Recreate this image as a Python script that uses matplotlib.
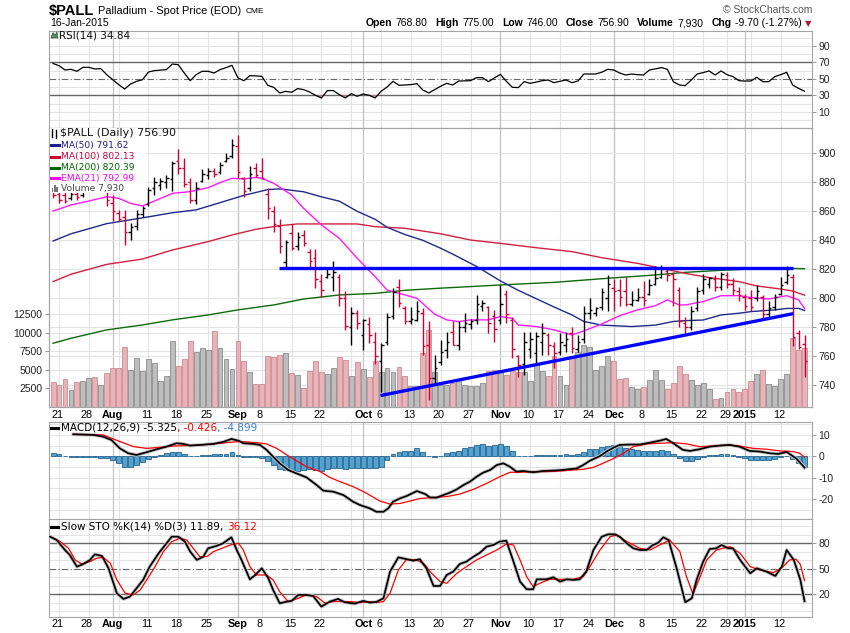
import matplotlib
matplotlib.use("Agg")
import matplotlib.pyplot as plt
import numpy as np
from matplotlib import font_manager
from matplotlib.lines import Line2D
from matplotlib.patches import Rectangle, Polygon
from matplotlib.transforms import blended_transform_factory as blend

plt.rcParams['font.family'] = ['Liberation Sans', 'DejaVu Sans']
plt.rcParams['axes.unicode_minus'] = False

try:
    font_manager.findfont('Liberation Sans Narrow', fallback_to_default=False)
    NARROW = 'Liberation Sans Narrow'
except ValueError:
    NARROW = 'Liberation Sans'

# ---------------- data (trading day 0 = 18-Jul-2014 ... 126 = 16-Jan-2015) ----------------
week_days = [1, 6, 11, 16, 21, 26, 31, 35, 40, 45, 50, 55, 60, 65, 70, 75, 80, 85, 90, 94,
             99, 104, 109, 113, 117, 122]
month_days = [10, 31, 52, 75, 94, 116]
tick_days = [1, 6, 10, 16, 21, 26, 31, 35, 40, 45, 52, 55, 60, 65, 70, 75, 80, 85, 90, 94,
             99, 104, 109, 113, 116, 122]
tick_labels = ['21', '28', 'Aug', '11', '18', '25', 'Sep', '8', '15', '22', 'Oct', '6', '13',
               '20', '27', 'Nov', '10', '17', '24', 'Dec', '8', '15', '22', '29', '2015', '12']
bold_labels = {'Aug', 'Sep', 'Oct', 'Nov', 'Dec', '2015'}

prev_close = 874.0
opens = [874, 872, 871, 869, 872, 871, 876, 878, 876, 878,
         866, 859, 856, 846, 850, 858, 865, 876, 878, 880,
         882, 895, 890, 880, 868, 881, 885, 888, 887, 895,
         898, 905, 883, 876, 890, 888, 872, 860, 850, 825,
         845, 836, 844, 832, 828, 812, 815, 815, 815, 800,
         780, 790, 775, 782, 770, 757, 770, 788, 808, 793,
         784, 785, 790, 768, 745, 756, 764, 777, 768, 780,
         782, 785, 795, 794, 788, 785, 803, 785, 760, 755,
         765, 762, 770, 775, 767, 763, 768, 776, 765, 772,
         790, 790, 794, 800, 807, 806, 805, 796, 799, 801,
         803, 810, 815, 819, 817, 806, 783, 780, 793, 806,
         810, 813, 808, 816, 810, 805, 801, 800, 800, 801,
         789, 794, 803, 811, 815, 776, 768.8]
highs = [876, 875, 874, 874, 874, 878, 880, 880, 881, 879,
         871, 861, 861, 852, 861, 864, 877, 884, 883, 885,
         895, 903, 897, 883, 880, 889, 890, 890, 894, 900,
         910, 913, 884, 891, 893, 897, 876, 864, 855, 840,
         851, 846, 847, 834, 834, 817, 821, 826, 817, 805,
         794, 792, 786, 787, 777, 769, 790, 807, 813, 795,
         794, 798, 793, 784, 761, 771, 777, 784, 784, 790,
         786, 802, 799, 795, 792, 809, 806, 787, 761, 777,
         777, 777, 783, 776, 770, 776, 777, 780, 775, 795,
         800, 794, 807, 816, 813, 813, 815, 805, 807, 812,
         813, 822, 823, 821, 818, 808, 787, 795, 808, 817,
         815, 816, 818, 818, 814, 808, 803, 806, 809, 802,
         798, 803, 815, 822, 817, 778, 775]
lows = [869, 866, 866, 868, 868, 870, 873, 874, 874, 864,
        853, 853, 837, 840, 847, 856, 864, 871, 875, 876,
        874, 886, 877, 866, 865, 880, 882, 884, 886, 894,
        897, 883, 870, 874, 884, 882, 855, 846, 831, 821,
        833, 833, 836, 821, 807, 801, 814, 805, 795, 778,
        768, 779, 764, 769, 755, 735.6, 768, 786, 794, 782,
        782, 784, 761, 730, 740, 754, 759, 768, 764, 777,
        779, 782, 791, 776, 770, 782, 783, 759, 746, 747,
        759, 755, 761, 761, 752, 761, 763, 762, 763, 769,
        786, 788, 792, 791, 791, 795, 795, 795, 798, 795,
        802, 809, 814, 812, 795, 780, 776, 778, 791, 803,
        807, 805, 806, 807, 802, 798, 792, 791, 798, 785,
        786, 792, 802, 810, 767, 765, 746]
closes = [871, 868, 867, 872, 870, 876, 878, 876, 879, 868,
          860, 855, 846, 849, 858, 862, 875, 880, 881, 883,
          893, 890, 879, 868, 876, 886, 888, 886, 892, 897,
          906, 887, 874, 886, 885, 883, 862, 851, 836, 839,
          835, 842, 838, 826, 813, 806, 817, 818, 800, 781,
          790, 783, 785, 775, 760, 768, 787, 804, 797, 784,
          786, 791, 767, 745, 752, 763, 770, 768, 780, 783,
          784, 796, 797, 783, 779, 796, 789, 765, 754, 770,
          772, 774, 776, 768, 762, 770, 772, 766, 770, 790,
          792, 793, 804, 810, 805, 801, 796, 799, 801, 799,
          809, 814, 820, 816, 813, 784, 780, 791, 805, 813,
          814, 808, 817, 810, 806, 802, 795, 794, 805, 789,
          793, 801, 809, 816, 773, 766.6, 756.9]
volume = [3400, 2950, 3770, 2280, 3400, 3540, 3900, 4040, 2950, 4620,
          5250, 5250, 8130, 4980, 6600, 4850, 6460, 5840, 3500, 4170,
          8900, 5520, 6460, 8900, 7410, 7950, 7680, 10250, 7950, 6460,
          5110, 8900, 6190, 4700, 3090, 3090, 6870, 6730, 7000, 7280,
          4620, 4300, 2550, 4850, 6190, 4700, 4440, 5250, 6730, 6330,
          4170, 6060, 5110, 4040, 6190, 4700, 5250, 4700, 5380, 4170,
          2810, 2810, 7290, 10430, 4630, 2880, 2880, 3230, 3640, 2970,
          2790, 2750, 3230, 4860, 4990, 4990, 4320, 4810, 4720, 4680,
          3410, 5570, 4810, 4090, 6790, 4090, 2880, 6790, 7380, 8270,
          8050, 4900, 5500, 6790, 6120, 3680, 3910, 2610, 2430, 2610,
          3640, 4990, 3640, 2340, 3230, 5440, 4410, 3640, 2880, 3190,
          2430, 1080, 1170, 1980, 2340, 1980, 2390, 3410, 4410, 4990,
          3060, 2750, 3770, 4450, 9350, 7600, 7930]

ma50 = [(0, 839.5), (3, 844.5), (9, 851.5), (15, 855.5), (20, 859.0), (24, 861.0), (28, 866.0),
        (32, 871.0), (36, 875.0), (38, 875.5), (42, 873.5), (45, 870.0), (48, 867.0), (51, 860.0),
        (54, 854.5), (56, 849.0), (59, 844.0), (62, 840.0), (65, 834.5), (67, 830.5), (71, 822.0),
        (75, 812.0), (78, 805.5), (84, 794.0), (87, 788.5), (89, 784.0), (92, 781.5), (97, 780.5),
        (101, 781.5), (104, 784.0), (106, 784.6), (109, 785.0), (112, 788.5), (115, 789.7),
        (117, 790.8), (121, 792.0), (123, 793.0), (125, 793.0), (126, 791.62)]
ma100 = [(0, 811.5), (3, 816.6), (9, 823.4), (15, 827.1), (20, 833.3), (26, 839.1), (30, 843.7),
         (34, 847.6), (38, 850.1), (41, 851.3), (45, 851.3), (51, 851.3), (54, 849.4), (59, 848.3),
         (62, 846.4), (65, 844.5), (70, 840.2), (75, 837.9), (81, 834.9), (87, 832.2), (92, 828.0),
         (98, 824.1), (102, 820.7), (106, 817.2), (110, 814.3), (115, 811.5), (118, 808.5),
         (122, 806.4), (124, 805.0), (126, 802.13)]
ma200 = [(0, 769.0), (3, 772.4), (9, 778.2), (15, 781.6), (20, 785.1), (26, 788.5), (31, 792.0),
         (37, 795.4), (42, 799.5), (48, 802.3), (54, 803.4), (59, 805.5), (65, 807.0), (71, 808.3),
         (75, 809.2), (84, 811.0), (93, 813.8), (101, 816.1), (106, 817.9), (112, 819.3),
         (117, 820.2), (123, 820.7), (126, 820.39)]
ema21 = [(0, 860.2), (3, 864.4), (6, 867.1), (9, 870.1), (11, 869.0), (13, 865.5), (15, 863.7),
         (17, 867.1), (20, 872.4), (23, 873.6), (26, 876.3), (28, 879.8), (30, 882.8), (32, 882.3),
         (34, 883.4), (35, 882.8), (37, 879.3), (40, 871.3), (42, 862.1), (45, 850.6), (48, 841.4),
         (51, 827.6), (54, 814.9), (56, 805.7), (59, 802.3), (61, 800.0), (64, 789.0), (66, 785.1),
         (68, 783.9), (70, 785.1), (73, 785.1), (75, 787.4), (77, 786.2), (78, 781.6), (81, 780.5),
         (84, 778.2), (87, 774.7), (89, 777.5), (92, 782.3), (95, 788.0), (98, 792.0), (101, 794.9),
         (103, 798.9), (105, 795.4), (106, 795.4), (109, 797.7), (112, 801.8), (115, 801.8),
         (117, 800.5), (120, 799.5), (123, 801.8), (125, 798.9), (126, 792.99)]
resist_days, resist_vals = [37.9, 124.0], [821.0, 821.0]
support_days, support_vals = [54.9, 124.1], [732.9, 789.4]

rsi = [68.5, 65.9, 60.7, 61.5, 59.1, 63.9, 63.9, 61.9, 62.3, 55.0,
       48.9, 43.0, 37.6, 43.7, 46.9, 48.9, 58.2, 59.9, 60.5, 61.1,
       67.9, 67.1, 57.0, 47.7, 55.0, 59.1, 59.1, 57.0, 61.1, 63.5,
       66.3, 51.0, 47.7, 53.8, 53.5, 53.0, 42.1, 39.6, 32.8, 34.8,
       33.6, 38.1, 36.9, 34.0, 30.0, 26.7, 35.7, 35.7, 30.8, 26.7,
       32.0, 28.8, 31.6, 30.0, 26.7, 34.8, 40.0, 46.9, 42.1, 42.5,
       42.9, 44.1, 36.4, 32.8, 36.9, 41.0, 44.5, 42.5, 47.3, 47.5,
       47.7, 51.4, 51.4, 46.5, 51.0, 55.4, 47.0, 39.7, 39.3, 46.5,
       44.5, 46.0, 47.7, 48.5, 45.3, 47.0, 48.5, 45.3, 47.3, 55.8,
       55.8, 55.8, 58.0, 61.5, 60.7, 57.0, 54.6, 55.8, 55.0, 54.6,
       60.7, 62.0, 63.6, 61.5, 46.5, 42.5, 41.7, 48.5, 55.8, 57.5,
       59.5, 54.6, 59.5, 55.0, 52.6, 47.7, 47.3, 47.3, 51.8, 46.5,
       46.5, 52.6, 55.0, 57.9, 42.5, 38.4, 34.84]

macd_line = [(3.4, 10.3), (6.8, 10.0), (8.4, 9.2), (9.8, 7.6), (11.2, 3.7), (12.6, 1.4), (14.0, 0.6),
             (15.7, 1.9), (17.4, 3.3), (19.0, 4.5), (20.7, 6.1), (21.8, 5.8), (23.0, 5.0), (24.6, 5.3),
             (26.9, 5.8), (28.5, 6.7), (29.9, 8.1), (31.1, 7.3), (31.9, 6.1), (33.6, 5.8), (34.7, 5.3),
             (35.8, 3.0), (36.9, -0.2), (38.0, -3.3), (39.4, -6.4), (40.8, -8.0), (42.5, -9.9),
             (44.2, -13.5), (45.3, -16.1), (47.0, -16.6), (48.7, -18.2), (50.3, -21.3), (51.5, -22.9),
             (53.1, -24.4), (54.2, -26.0), (55.4, -26.0), (56.2, -24.4), (57.0, -21.3), (58.2, -19.7),
             (59.3, -18.6), (61.0, -16.3), (62.4, -17.7), (63.2, -19.3), (64.3, -19.4), (65.4, -18.2),
             (66.5, -17.1), (67.7, -15.5), (68.8, -13.5), (69.9, -11.9), (71.0, -9.6), (72.1, -7.7),
             (73.3, -6.4), (74.4, -4.1), (75.5, -3.3), (76.6, -4.9), (77.7, -7.2), (78.8, -6.9),
             (80.5, -7.5), (82.2, -6.9), (83.9, -6.7), (85.6, -6.4), (86.7, -6.0), (87.8, -5.7),
             (88.9, -4.1), (90.0, -2.1), (91.7, 0.1), (92.8, 2.2), (94.0, 4.1), (95.0, 5.3),
             (96.7, 5.5), (98.4, 5.5), (100.1, 6.4), (101.7, 7.3), (102.8, 8.1), (104.0, 6.1),
             (105.6, 3.0), (106.8, 2.5), (108.4, 3.3), (110.1, 4.5), (111.8, 5.0), (113.5, 5.3),
             (115.1, 4.5), (116.8, 2.5), (118.5, 2.2), (120.2, 1.4), (121.6, 1.1), (123.0, 2.0),
             (124.6, -1.0), (126.0, -5.325)]
signal_line = [(3.4, 10.3), (8.4, 10.0), (11.2, 6.9), (13.5, 4.5), (15.7, 3.7), (17.9, 4.2),
               (20.2, 4.8), (22.4, 5.0), (24.6, 5.3), (26.9, 5.8), (29.1, 6.4), (31.3, 6.9),
               (34.1, 6.4), (35.8, 5.8), (37.5, 3.7), (39.2, 0.6), (40.8, -2.1), (42.5, -4.9),
               (44.8, -7.2), (46.4, -9.9), (48.1, -11.9), (50.3, -14.2), (52.6, -17.4), (54.8, -21.0),
               (56.5, -22.4), (58.2, -22.1), (59.8, -21.0), (61.5, -19.8), (63.8, -19.3), (66.0, -18.9),
               (68.2, -17.7), (70.5, -15.5), (72.7, -12.7), (74.9, -9.6), (76.6, -7.5), (78.3, -7.5),
               (80.5, -7.2), (82.7, -7.2), (85.0, -6.9), (87.2, -6.4), (88.9, -6.1), (90.6, -5.2),
               (92.2, -3.3), (94.0, -1.0), (95.6, 1.4), (97.3, 4.5), (99.5, 5.8), (101.7, 6.1),
               (104.0, 6.4), (106.2, 5.8), (108.4, 4.5), (110.7, 4.8), (112.9, 5.3), (115.1, 4.8),
               (117.4, 3.7), (119.6, 3.3), (121.9, 2.5), (124.1, 2.2), (125.2, 1.4), (126.0, -0.426)]
macd_hist = [1.4, 0.9, 0.1, -0.2, -0.5, -0.5, -0.5, -0.5, -0.6, -1.0,
             -1.7, -3.3, -4.9, -4.9, -4.1, -2.5, -1.1, -0.3, 0.5, 1.7,
             2.2, 1.9, 0.9, 0.0, 0.0, 0.5, 0.8, 0.9, 0.9, 1.2,
             1.9, 0.8, -0.2, -0.2, -0.5, -1.0, -2.4, -4.1, -6.1, -6.4,
             -6.7, -6.7, -6.4, -6.1, -6.4, -6.9, -6.1, -5.6, -5.6, -6.1,
             -5.6, -5.6, -5.6, -5.6, -5.3, -4.9, -1.7, 0.9, 2.2, 2.6,
             2.6, 3.7, 2.2, 0.1, -0.3, 0.0, 1.4, 1.9, 2.6, 4.0,
             4.5, 5.3, 5.6, 4.8, 5.3, 5.8, 4.8, 2.3, 0.1, 0.1,
             0.1, 0.5, 0.5, 0.5, 0.5, 0.5, 0.9, 0.8, 1.1, 2.2,
             3.3, 3.6, 4.5, 5.0, 5.1, 4.8, 3.7, 3.3, 3.0, 2.3,
             2.3, 2.3, 2.8, 2.5, 1.1, -0.8, -2.4, -2.4, -1.3, -0.3,
             0.5, 0.5, 0.9, 0.9, 0.5, -0.3, -1.0, -1.7, -1.7, -1.7,
             -1.7, -1.3, -0.3, 0.3, -1.4, -3.0, -4.899]

sto_k = [(-0.5, 87.8), (0.6, 83.9), (2.0, 72.1), (2.8, 66.3), (4.0, 52.5), (5.1, 55.7), (6.2, 60.4),
         (7.0, 67.0), (8.2, 65.1), (9.3, 50.6), (10.7, 21.2), (11.8, 14.5), (12.9, 17.3), (14.0, 27.1),
         (15.1, 36.9), (16.2, 52.5), (17.7, 68.2), (18.8, 78.0), (19.9, 87.8), (21.0, 87.8),
         (22.1, 82.0), (23.0, 70.2), (24.1, 60.4), (25.2, 64.3), (26.0, 74.1), (27.4, 76.9),
         (28.5, 80.0), (29.9, 87.1), (30.8, 72.1), (31.6, 60.4), (33.0, 37.6), (33.9, 42.7),
         (35.0, 50.6), (36.1, 38.8), (36.9, 25.1), (38.0, 9.4), (39.2, 11.4), (40.0, 12.2),
         (41.1, 19.2), (42.5, 19.2), (43.6, 18.0), (45.0, 5.5), (46.4, 11.4), (47.8, 14.5),
         (48.9, 10.6), (50.6, 9.0), (52.0, 12.2), (53.1, 10.2), (54.2, 11.0), (55.4, 15.3),
         (56.5, 46.7), (57.9, 63.5), (59.3, 61.2), (60.4, 59.6), (61.5, 61.2), (62.6, 50.6),
         (63.8, 29.8), (64.9, 29.8), (66.0, 42.7), (67.1, 46.7), (68.2, 55.7), (69.3, 58.4),
         (70.5, 64.3), (71.6, 69.0), (72.7, 76.1), (73.8, 78.0), (74.9, 82.0), (76.0, 83.1),
         (77.2, 58.4), (78.3, 34.9), (79.4, 25.9), (80.5, 25.9), (81.1, 37.6), (82.7, 37.6),
         (83.9, 40.0), (85.0, 34.9), (86.1, 37.6), (87.2, 36.9), (88.3, 37.6), (89.4, 46.7),
         (90.6, 72.1), (92.0, 87.8), (93.1, 90.6), (94.2, 90.6), (95.0, 87.8), (96.2, 80.0),
         (97.3, 74.1), (98.4, 72.1), (99.5, 72.1), (100.6, 78.0), (101.5, 80.8), (102.3, 87.1),
         (103.2, 83.9), (104.6, 49.4), (106.0, 10.6), (107.1, 15.3), (107.9, 36.9), (109.0, 58.4),
         (110.1, 73.3), (111.2, 74.1), (112.1, 78.0), (113.2, 74.1), (114.0, 74.1), (115.2, 60.4),
         (116.9, 44.7), (118.0, 50.6), (119.6, 46.7), (121.1, 41.6), (122.2, 52.5), (123.0, 72.1),
         (124.2, 60.4), (125.3, 36.9), (126.0, 11.89)]
sto_d = [(-0.5, 87.8), (1.2, 82.0), (2.6, 74.1), (3.7, 60.4), (4.8, 55.7), (6.2, 58.4), (7.3, 62.4),
         (8.4, 63.5), (9.6, 56.5), (10.7, 36.9), (12.1, 21.2), (13.5, 19.2), (14.6, 25.1),
         (15.7, 36.9), (17.1, 52.5), (18.5, 70.2), (19.9, 82.0), (21.3, 86.0), (22.4, 83.9),
         (23.5, 74.1), (24.6, 64.3), (25.8, 64.3), (26.9, 70.2), (28.3, 74.1), (29.7, 78.0),
         (31.1, 80.0), (31.9, 72.1), (33.0, 52.5), (34.1, 42.7), (35.8, 42.7), (36.9, 36.9),
         (38.0, 23.1), (39.4, 11.4), (40.8, 14.5), (42.5, 19.2), (44.2, 17.3), (45.6, 9.4),
         (47.0, 11.4), (48.4, 11.4), (49.8, 11.4), (51.5, 10.2), (53.1, 11.4), (54.2, 10.2),
         (55.4, 11.4), (56.5, 21.2), (57.9, 48.6), (59.3, 61.2), (61.0, 60.4), (62.4, 54.5),
         (63.2, 46.7), (64.9, 34.9), (66.0, 32.9), (67.7, 44.7), (69.3, 52.5), (71.0, 60.4),
         (72.7, 66.3), (74.4, 72.1), (76.0, 79.2), (77.2, 78.0), (78.3, 60.4), (79.4, 40.8),
         (80.5, 29.0), (81.6, 32.9), (83.3, 37.6), (85.0, 37.6), (87.2, 37.6), (88.9, 40.8),
         (90.0, 52.5), (91.7, 72.1), (93.4, 87.8), (94.5, 89.8), (96.2, 82.0), (98.4, 74.1),
         (100.1, 72.1), (101.7, 78.0), (103.4, 83.9), (105.1, 70.2), (106.2, 40.8), (107.3, 20.4),
         (108.4, 38.8), (109.6, 60.4), (111.2, 72.1), (113.5, 76.1), (115.2, 68.2), (116.9, 52.5),
         (118.5, 48.6), (120.8, 45.5), (122.4, 52.5), (123.5, 60.4), (124.6, 61.2), (125.3, 55.0),
         (126.0, 36.12)]

price_ticks = [740, 760, 780, 800, 820, 840, 860, 880, 900]
vol_ticks = [2500, 5000, 7500, 10000, 12500]

# ---------------- layout ----------------
W, H = 850, 633
LEFT, RIGHT = 49.3, 811.7
XLIM = (-0.63, 127.2)
RED = '#cc0033'


def fx(x):
    return x / W


def fy(y):
    return 1 - y / H


fig = plt.figure(figsize=(W / 100, H / 100), dpi=100)
fig.patch.set_facecolor('white')


def panel(top, bot):
    return fig.add_axes([fx(LEFT), fy(bot), (RIGHT - LEFT) / W, (bot - top) / H])


def frame(ax, ylim, ticks, grid=(), side='right'):
    ax.set_xlim(*XLIM)
    ax.set_ylim(*ylim)
    ax.set_xticks([])
    ax.set_yticks(ticks)
    if side == 'right':
        ax.yaxis.tick_right()
    else:
        ax.yaxis.tick_left()
    ax.tick_params(axis='y', direction='out', length=3, width=0.6, color='#888888',
                   labelcolor='#222222', labelsize=7.5, pad=2)
    for s in ax.spines.values():
        s.set_color('#a5a5a5')
        s.set_linewidth(0.8)
    for g in grid:
        ax.axhline(g, color='#e4e4e4', lw=0.8, zorder=0)


def vgrid(ax):
    for d in week_days:
        ax.axvline(d, color='#e4e4e4', lw=0.8, zorder=0)
    for d in month_days:
        ax.axvline(d, color='#c4c4c4', lw=0.9, zorder=0)


def date_labels(ax, ypos):
    tr = blend(ax.transData, ax.transAxes)
    for d, lab in zip(tick_days, tick_labels):
        b = lab in bold_labels
        ax.text(d if b else d - 0.3, ypos, lab, transform=tr, ha='center', va='center',
                fontsize=7.8, family=NARROW, fontweight='bold' if b else 'normal', clip_on=False)


ax_rsi = panel(30.7, 127.7)
ax_vol = panel(127.7, 406.7)
ax_px = ax_vol.twinx()
ax_macd = panel(421.7, 519.0)
ax_sto = panel(519.0, 617.3)

days = np.arange(len(closes))
up = [c >= p for c, p in zip(closes, [prev_close] + closes[:-1])]

# ---- RSI ----
frame(ax_rsi, (-9.3, 108.3), [10, 30, 50, 70, 90], grid=[0, 10, 20, 40, 60, 80, 90, 100])
vgrid(ax_rsi)
for lvl in (30, 70):
    ax_rsi.axhline(lvl, color='#666666', lw=1.0, zorder=1)
ax_rsi.axhline(50, color='#666666', lw=0.8, dashes=(6, 2, 1, 2), zorder=1)
r = np.array(rsi)
ax_rsi.fill_between(days, r, 30, where=r < 30, interpolate=True, color='#c98a8a', lw=0, zorder=2)
ax_rsi.plot(days, r, color='black', lw=0.9, zorder=3)

# ---- price + volume ----
frame(ax_vol, (0, 37700), vol_ticks, grid=vol_ticks, side='left')
ax_vol.set_yticklabels([str(v) for v in vol_ticks])
vgrid(ax_vol)
frame(ax_px, (725.2, 917.7), price_ticks)
tr = blend(ax_vol.transAxes, ax_px.transData)
for p in price_ticks:
    ax_vol.add_line(Line2D([0, 1], [p, p], transform=tr, color='#e4e4e4', lw=0.8, zorder=0))

vfill = ['#bdbdbd' if u else '#e6b5ba' for u in up]
vedge = ['#8c8c8c' if u else '#cf8890' for u in up]
ax_vol.bar(days, volume, width=0.82, color=vfill, edgecolor=vedge, linewidth=0.6, zorder=2)

cols = ['black' if u else RED for u in up]
ax_px.vlines(days, lows, highs, colors=cols, lw=1.0, zorder=4)
ax_px.hlines(opens, days - 0.42, days, colors=cols, lw=1.0, zorder=4)
ax_px.hlines(closes, days, days + 0.42, colors=cols, lw=1.0, zorder=4)

for series, col in ((ma200, '#0b6b0b'), (ma100, '#d0203f'), (ma50, '#1f2a8a'), (ema21, '#ff1aff')):
    xs, ys = zip(*series)
    ax_px.plot(xs, ys, color=col, lw=1.0, zorder=3)
ax_px.plot(resist_days, resist_vals, color='#0000ff', lw=2.4, zorder=5, solid_capstyle='butt')
ax_px.plot(support_days, support_vals, color='#0000ff', lw=2.4, zorder=5, solid_capstyle='butt')
date_labels(ax_vol, -0.0297)

# ---- MACD ----
frame(ax_macd, (-29.4, 16.2), [10, 0, -10, -20], grid=[-25, -20, -15, -10, -5, 0, 5, 10, 15])
vgrid(ax_macd)
ax_macd.bar(days, macd_hist, width=0.82, color='#54a2cf', edgecolor='#23628f', linewidth=0.6, zorder=2)
mx, my = zip(*macd_line)
sx, sy = zip(*signal_line)
ax_macd.plot(mx, my, color='#c4c4c4', lw=2.6, zorder=3)
ax_macd.plot(sx, sy, color='#ff0000', lw=0.9, zorder=4)
ax_macd.plot(mx, my, color='black', lw=1.25, zorder=5)

# ---- Slow stochastic ----
frame(ax_sto, (-7.1, 108.6), [20, 50, 80], grid=[0, 10, 30, 40, 60, 70, 90, 100])
vgrid(ax_sto)
for lvl in (20, 80):
    ax_sto.axhline(lvl, color='#666666', lw=1.0, zorder=1)
ax_sto.axhline(50, color='#666666', lw=0.8, dashes=(6, 2, 1, 2), zorder=1)
kx, ky = zip(*sto_k)
dx, dy = zip(*sto_d)
ax_sto.plot(kx, ky, color='#c4c4c4', lw=2.6, zorder=3)
ax_sto.plot(dx, dy, color='#ff0000', lw=0.9, zorder=4)
ax_sto.plot(kx, ky, color='black', lw=1.25, zorder=5)
date_labels(ax_sto, -0.068)

# ---------------- texts ----------------
renderer = fig.canvas.get_renderer()


def text_row(x, y, parts, align='left'):
    items = []
    for s, gap, kw in parts:
        t = fig.text(0, fy(y), s, va='center', ha='left', **kw)
        items.append((t, t.get_window_extent(renderer=renderer).width, gap))
    total = sum(w + g for _, w, g in items) - items[-1][2]
    cx = x - total if align == 'right' else x
    for t, w, g in items:
        t.set_x(fx(cx))
        cx += w + g


hdr = dict(family='Liberation Sans', fontsize=7.5, color='black')
hdr_b = dict(hdr, fontweight='bold')
text_row(49, 11.5, [('$PALL', 4, dict(family='Liberation Sans', fontsize=10.5, fontweight='bold')),
                    ('Palladium - Spot Price (EOD)', 4, dict(hdr, fontsize=7.9)),
                    ('CME', 0, dict(hdr, fontsize=6))])
fig.text(fx(50), fy(23.5), '16-Jan-2015', va='center', **hdr)
fig.text(fx(812), fy(10), '\u00a9 StockCharts.com', ha='right', va='center',
         family='Liberation Sans', fontsize=7.5, color='#555555')

chg = closes[-1] - closes[-2]
quote = [('Open', f'{opens[-1]:.2f}'), ('High', f'{highs[-1]:.2f}'), ('Low', f'{lows[-1]:.2f}'),
         ('Close', f'{closes[-1]:.2f}'), ('Volume', f'{volume[-1]:,}'),
         ('Chg', f'{chg:.2f} ({chg / closes[-2] * 100:.2f}%)')]
parts = []
for lab, val in quote:
    parts += [(lab, 3.5, hdr_b), (val, 8, hdr)]
text_row(802, 23.5, parts, align='right')
fig.text(fx(808), fy(23.5), '\u25bc', ha='center', va='center', fontsize=6, color='#a8203a',
         family='DejaVu Sans')

# RSI title
fig.add_artist(Polygon([[fx(51), fy(38)], [fx(53), fy(32.5)], [fx(55), fy(35)], [fx(57), fy(32)],
                        [fx(58), fy(38)]], closed=True, transform=fig.transFigure,
                       fc='#5d8a5d', ec='#2f5a2f', lw=0.5, zorder=2))
fig.text(fx(59), fy(35.3), f'RSI(14) {rsi[-1]:.2f}', va='center', family='DejaVu Sans',
         fontsize=7.5, color='#111111')

# price legend with white backing
fig.add_artist(Rectangle((fx(49.8), fy(193)), fx(146) - fx(49.8), (193 - 128.2) / H,
                         transform=fig.transFigure, fc='white', ec='none', zorder=1))
fig.add_artist(Line2D([fx(52), fx(52)], [fy(129), fy(137)], transform=fig.transFigure,
                      color='black', lw=1.0, zorder=2))
fig.add_artist(Line2D([fx(56), fx(56)], [fy(130), fy(138)], transform=fig.transFigure,
                      color='black', lw=1.0, zorder=2))
fig.text(fx(60), fy(133.3), f'$PALL (Daily) {closes[-1]:.2f}', va='center', family='DejaVu Sans',
         fontsize=8, color='#111111')
legend_rows = [(f'MA(50) {ma50[-1][1]:.2f}', '#1c1c8c', 145.3),
               (f'MA(100) {ma100[-1][1]:.2f}', RED, 156.7),
               (f'MA(200) {ma200[-1][1]:.2f}', '#006400', 167.7),
               (f'EMA(21) {ema21[-1][1]:.2f}', '#ff00ff', 178.3)]
for txt, col, yy in legend_rows:
    fig.add_artist(Line2D([fx(51), fx(59)], [fy(yy), fy(yy)], transform=fig.transFigure,
                          color=col, lw=2.2, zorder=2))
    fig.text(fx(61), fy(yy), txt, va='center', family='DejaVu Sans', fontsize=6.6, color=col)
for k, hgt in enumerate((4, 7, 5)):
    fig.add_artist(Rectangle((fx(51.5 + k * 2.4), fy(192)), 1.8 / W, hgt / H, transform=fig.transFigure,
                             fc='#777777', ec='none', zorder=2))
fig.text(fx(61), fy(188.3), f'Volume {volume[-1]:,}', va='center', family='DejaVu Sans',
         fontsize=6.6, color='#444444')

# MACD title
fig.add_artist(Line2D([fx(51), fx(58)], [fy(428), fy(428)], transform=fig.transFigure,
                      color='black', lw=2.2, zorder=2))
dv = dict(family='DejaVu Sans', fontsize=7.5)
text_row(61, 428, [(f'MACD(12,26,9) {macd_line[-1][1]:.3f}', 0, dict(dv, color='black')),
                   (f', {signal_line[-1][1]:.3f}', 0, dict(dv, color='#ff0000')),
                   (f', {macd_hist[-1]:.3f}', 0, dict(dv, color='#3d7fd6'))])

# STO title
fig.add_artist(Line2D([fx(51), fx(58)], [fy(526.7), fy(526.7)], transform=fig.transFigure,
                      color='black', lw=2.2, zorder=2))
text_row(61, 526.7, [(f'Slow STO %K(14) %D(3) {sto_k[-1][1]:.2f},', 3.5, dict(dv, color='black')),
                     (f'{sto_d[-1][1]:.2f}', 0, dict(dv, color='#ff0000'))])

fig.savefig('out.png', dpi=100, facecolor='white')
